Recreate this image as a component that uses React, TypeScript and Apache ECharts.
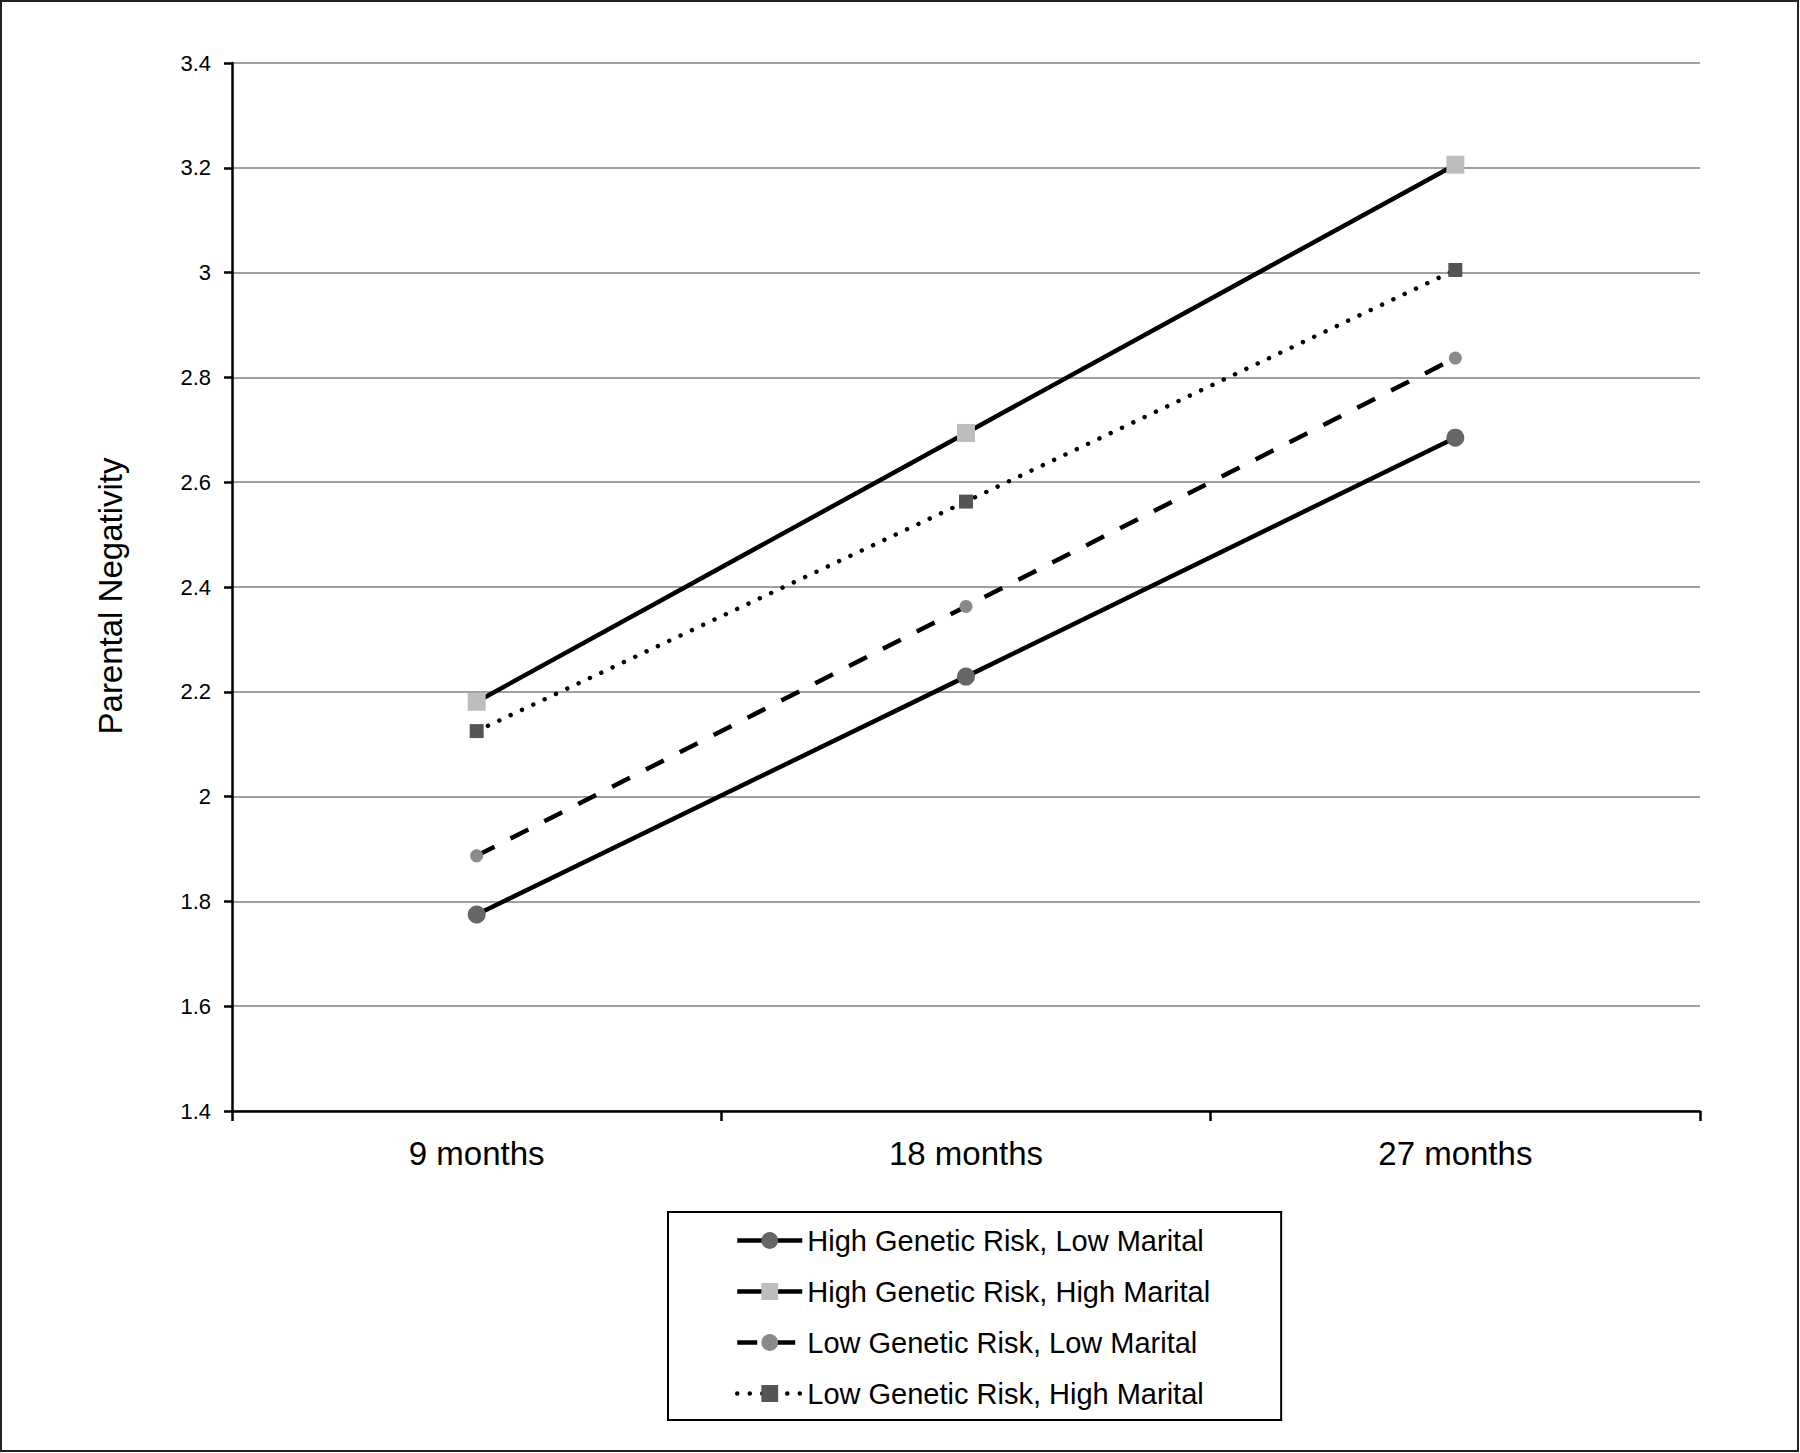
import React, { useEffect, useRef } from "react";
import * as echarts from "echarts";

const categories = ["9 months", "18 months", "27 months"];
const seriesNames = [
  "High Genetic Risk, Low Marital",
  "High Genetic Risk, High Marital",
  "Low Genetic Risk, Low Marital",
  "Low Genetic Risk, High Marital",
];
const highGeneticLowMarital = [1.775, 2.229, 2.685];
const highGeneticHighMarital = [2.181, 2.694, 3.206];
const lowGeneticLowMarital = [1.887, 2.363, 2.837];
const lowGeneticHighMarital = [2.125, 2.563, 3.005];

const FONT = "'Liberation Sans', Arial, sans-serif";

export default function App() {
  const ref = useRef<HTMLDivElement>(null);
  useEffect(() => {
    if (!ref.current) return;
    const chart = echarts.init(ref.current, undefined, { renderer: "svg" });
    const lineW = 4.5;
    const mk = (
      name: string,
      data: number[],
      symbol: string,
      size: number,
      fill: string,
      dash: any,
      cap: string
    ) => ({
      name,
      type: "line",
      data,
      symbol,
      symbolSize: size,
      showAllSymbol: true,
      itemStyle: { color: fill, borderWidth: 0 },
      lineStyle: { color: "#000", width: lineW, type: dash, cap },
      z: 3,
    });
    chart.setOption({
      animation: false,
      backgroundColor: "#fff",
      textStyle: { fontFamily: FONT },
      graphic: [
        {
          type: "rect",
          shape: { x: 1, y: 1, width: 1797, height: 1450 },
          style: { fill: "none", stroke: "#222", lineWidth: 2 },
          silent: true,
        },
      ],
      grid: { left: 232, right: 100, top: 63, bottom: 342, containLabel: false },
      xAxis: {
        type: "category",
        data: categories,
        boundaryGap: true,
        axisLine: { lineStyle: { color: "#000", width: 2.5 } },
        axisTick: { show: true, length: 10, lineStyle: { color: "#000", width: 2.5 } },
        axisLabel: { color: "#000", fontSize: 33, fontFamily: FONT, margin: 26 },
        splitLine: { show: false },
      },
      yAxis: {
        type: "value",
        min: 1.4,
        max: 3.4,
        interval: 0.2,
        name: "Parental Negativity",
        nameLocation: "middle",
        nameGap: 105,
        nameTextStyle: {
          color: "#000",
          fontSize: 33,
          fontFamily: FONT,
          padding: [0, 18, 0, 0],
        },
        axisLine: { show: true, lineStyle: { color: "#000", width: 2.5 } },
        axisTick: { show: true, length: 8, lineStyle: { color: "#000", width: 2.5 } },
        axisLabel: {
          color: "#000",
          fontSize: 22,
          fontFamily: FONT,
          margin: 21,
          formatter: (v: number) => String(Math.round(v * 10) / 10),
        },
        splitLine: { show: true, lineStyle: { color: "#a0a0a0", width: 2 } },
      },
      legend: {
        orient: "vertical",
        left: 668,
        top: 1212,
        data: seriesNames,
        itemWidth: 65,
        itemHeight: 21,
        itemGap: 22,
        itemTextGap: 7,
        padding: [14, 71, 12, 67],
        borderColor: "#000",
        borderWidth: 2,
        lineStyle: { width: 4.5 },
        textStyle: { color: "#000", fontSize: 29, fontFamily: FONT },
      },
      series: [
        mk(seriesNames[0], highGeneticLowMarital, "circle", 18, "#666666", "solid", "butt"),
        mk(seriesNames[1], highGeneticHighMarital, "rect", 18, "#bdbdbd", "solid", "butt"),
        mk(seriesNames[2], lowGeneticLowMarital, "circle", 13, "#8a8a8a", [20, 18], "butt"),
        mk(seriesNames[3], lowGeneticHighMarital, "rect", 14, "#555555", [0.01, 12.5], "round"),
      ],
    });
    return () => chart.dispose();
  }, []);
  return (
    <div
      ref={ref}
      style={{ position: "fixed", left: 0, top: 0, width: 1800, height: 1453, background: "#fff" }}
    />
  );
}
